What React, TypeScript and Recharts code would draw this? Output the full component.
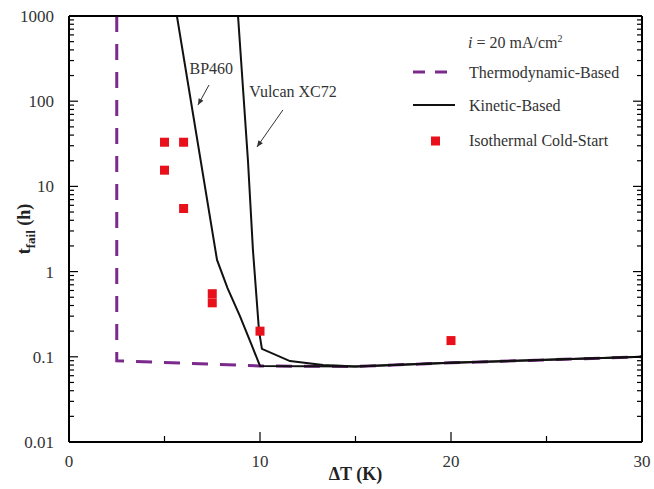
import {
  ComposedChart,
  Line,
  ReferenceDot,
  ReferenceLine,
  Scatter,
  XAxis,
  YAxis,
} from "recharts";

const xTicks = [0, 10, 20, 30];
const xMinorTicks = [5, 15, 25];
const yTicks = [0.01, 0.1, 1, 10, 100, 1000];
const yMinorSteps = [2, 3, 4, 5, 6, 7, 8, 9];

const thermodynamic = [
  { x: 2.5, y: 1000 },
  { x: 2.5, y: 0.09 },
  { x: 10, y: 0.078 },
  { x: 15, y: 0.077 },
  { x: 20, y: 0.085 },
  { x: 30, y: 0.1 },
];

const bp460 = [
  { x: 5.65, y: 1000 },
  { x: 7.75, y: 1.37 },
  { x: 8.3, y: 0.64 },
  { x: 8.95, y: 0.3 },
  { x: 9.55, y: 0.14 },
  { x: 10, y: 0.078 },
  { x: 15, y: 0.077 },
  { x: 20, y: 0.085 },
  { x: 30, y: 0.1 },
];

const vulcan = [
  { x: 8.85, y: 1000 },
  { x: 9.37, y: 20 },
  { x: 9.63, y: 1.8 },
  { x: 9.95, y: 0.2 },
  { x: 10.1, y: 0.124 },
  { x: 11.57, y: 0.089 },
  { x: 13.3, y: 0.08 },
  { x: 15, y: 0.077 },
  { x: 20, y: 0.085 },
  { x: 30, y: 0.1 },
];

const coldStart = [
  { x: 5, y: 33 },
  { x: 6, y: 33 },
  { x: 5, y: 15.5 },
  { x: 6, y: 5.5 },
  { x: 7.5, y: 0.55 },
  { x: 7.5, y: 0.43 },
  { x: 10, y: 0.2 },
  { x: 20, y: 0.155 },
];

const allYTicks = yTicks.concat(
  yTicks.slice(0, -1).flatMap((t) => yMinorSteps.map((s) => t * s))
);
const allXTicks = xTicks.concat(xMinorTicks);

const FONT = "Liberation Serif, serif";
const PURPLE = "#7b2a8c";
const RED = "#e8101a";

function LeftTick({ x, y, payload }: any) {
  const major = yTicks.includes(payload.value);
  return (
    <g>
      <line x1={x} x2={x + (major ? 9 : 5)} y1={y} y2={y} stroke="#000" strokeWidth={1.2} />
      {major && (
        <text x={x - 15} y={y} dy="0.35em" textAnchor="end" fill="#333" style={{ fontFamily: FONT, fontSize: 17 }}>
          {payload.value}
        </text>
      )}
    </g>
  );
}

function RightTick({ x, y, payload }: any) {
  const major = yTicks.includes(payload.value);
  return <line x1={x} x2={x - (major ? 9 : 5)} y1={y} y2={y} stroke="#000" strokeWidth={1.2} />;
}

function BottomTick({ x, y, payload }: any) {
  const major = xTicks.includes(payload.value);
  return (
    <g>
      <line x1={x} x2={x} y1={y} y2={y - (major ? 10 : 6)} stroke="#000" strokeWidth={1.2} />
      {major && (
        <text x={x} y={y + 19} dy="0.35em" textAnchor="middle" fill="#333" style={{ fontFamily: FONT, fontSize: 17 }}>
          {payload.value}
        </text>
      )}
    </g>
  );
}

function TopTick({ x, y, payload }: any) {
  const major = xTicks.includes(payload.value);
  return <line x1={x} x2={x} y1={y} y2={y + (major ? 10 : 6)} stroke="#000" strokeWidth={1.2} />;
}

function YLabel({ viewBox }: any) {
  const cx = viewBox.x + 21;
  const cy = viewBox.y + viewBox.height / 2;
  return (
    <text
      x={cx}
      y={cy}
      transform={`rotate(-90 ${cx} ${cy})`}
      textAnchor="middle"
      fill="#222"
      style={{ fontFamily: FONT, fontSize: 18, fontWeight: "bold" }}
    >
      t<tspan style={{ fontSize: 13 }} dy={5}>fail</tspan>
      <tspan dy={-5}> (h)</tspan>
    </text>
  );
}

function XLabel({ viewBox }: any) {
  const cx = viewBox.x + viewBox.width / 2;
  return (
    <text
      x={cx}
      y={viewBox.y + 38}
      textAnchor="middle"
      fill="#222"
      style={{ fontFamily: FONT, fontSize: 18, fontWeight: "bold" }}
    >
      ΔT (K)
    </text>
  );
}

function Annotation({ viewBox, value }: any) {
  return (
    <text
      x={viewBox.x + viewBox.width / 2}
      y={viewBox.y + viewBox.height / 2}
      dy="0.35em"
      textAnchor="middle"
      fill="#333"
      style={{ fontFamily: FONT, fontSize: 16 }}
    >
      {value}
    </text>
  );
}

function Arrow({ x1, y1, x2, y2 }: any) {
  const a = Math.atan2(y2 - y1, x2 - x1);
  const len = 7;
  const w = 0.4;
  const p1 = [x2 - len * Math.cos(a - w), y2 - len * Math.sin(a - w)];
  const p2 = [x2 - len * Math.cos(a + w), y2 - len * Math.sin(a + w)];
  return (
    <g>
      <line x1={x1} y1={y1} x2={x2} y2={y2} stroke="#333" strokeWidth={1} />
      <polygon points={`${x2},${y2} ${p1[0]},${p1[1]} ${p2[0]},${p2[1]}`} fill="#333" />
    </g>
  );
}

function Square({ cx, cy }: any) {
  return <rect x={cx - 4.5} y={cy - 4.5} width={9} height={9} fill={RED} />;
}

export default function App() {
  return (
    <div
      style={{
        position: "absolute",
        left: 0,
        top: 0,
        width: 654,
        height: 489,
        background: "#fff",
        fontFamily: FONT,
      }}
    >
      <ComposedChart
        width={654}
        height={489}
        margin={{ top: 15, right: 10, bottom: 2, left: 9 }}
      >
        <XAxis
          dataKey="x"
          type="number"
          domain={[0, 30]}
          ticks={allXTicks}
          interval={0}
          tick={<BottomTick />}
          tickSize={0}
          tickMargin={0}
          tickLine={false}
          axisLine={{ stroke: "#000", strokeWidth: 2 }}
          height={45}
          label={<XLabel />}
        />
        <XAxis
          xAxisId="top"
          orientation="top"
          dataKey="x"
          type="number"
          domain={[0, 30]}
          ticks={allXTicks}
          interval={0}
          tick={<TopTick />}
          tickSize={0}
          tickMargin={0}
          tickLine={false}
          axisLine={{ stroke: "#000", strokeWidth: 2 }}
          height={1}
        />
        <YAxis
          type="number"
          scale="log"
          domain={[0.01, 1000]}
          allowDataOverflow
          ticks={allYTicks}
          interval={0}
          tick={<LeftTick />}
          tickSize={0}
          tickMargin={0}
          tickLine={false}
          axisLine={{ stroke: "#000", strokeWidth: 2 }}
          width={60}
          label={<YLabel />}
        />
        <YAxis
          yAxisId="right"
          orientation="right"
          type="number"
          scale="log"
          domain={[0.01, 1000]}
          allowDataOverflow
          ticks={allYTicks}
          interval={0}
          tick={<RightTick />}
          tickSize={0}
          tickMargin={0}
          tickLine={false}
          axisLine={{ stroke: "#000", strokeWidth: 2 }}
          width={2}
        />
        <Line
          data={thermodynamic}
          dataKey="y"
          type="linear"
          stroke={PURPLE}
          strokeWidth={3}
          strokeDasharray="16 12"
          dot={false}
          isAnimationActive={false}
        />
        <Line
          data={bp460}
          dataKey="y"
          type="linear"
          stroke="#111"
          strokeWidth={2}
          dot={false}
          isAnimationActive={false}
        />
        <Line
          data={vulcan}
          dataKey="y"
          type="linear"
          stroke="#111"
          strokeWidth={2}
          dot={false}
          isAnimationActive={false}
        />
        <Scatter data={coldStart} dataKey="y" shape={<Square />} isAnimationActive={false} />
        <ReferenceLine
          segment={[
            { x: 7.33, y: 155 },
            { x: 6.75, y: 90 },
          ]}
          shape={Arrow}
        />
        <ReferenceLine
          segment={[
            { x: 11.2, y: 79 },
            { x: 9.84, y: 29 },
          ]}
          shape={Arrow}
        />
        <ReferenceDot
          x={7.45}
          y={245}
          r={0}
          fill="none"
          stroke="none"
          label={<Annotation value="BP460" />}
        />
        <ReferenceDot
          x={11.73}
          y={132}
          r={0}
          fill="none"
          stroke="none"
          label={<Annotation value="Vulcan XC72" />}
        />
      </ComposedChart>
      <svg
        width={240}
        height={140}
        style={{ position: "absolute", left: 405, top: 22, fontFamily: FONT, fontSize: 16 }}
        fill="#333"
      >
        <text x={63} y={20} dy="0.35em">
          <tspan fontStyle="italic">i</tspan> = 20 mA/cm
          <tspan style={{ fontSize: 10 }} dy={-6}>2</tspan>
        </text>
        <line x1={8} x2={52} y1={50} y2={50} stroke={PURPLE} strokeWidth={3} strokeDasharray="12 10" />
        <text x={64} y={50} dy="0.35em">Thermodynamic-Based</text>
        <line x1={8} x2={50} y1={83} y2={83} stroke="#111" strokeWidth={2} />
        <text x={64} y={83} dy="0.35em">Kinetic-Based</text>
        <rect x={26} y={114.5} width={9} height={9} fill={RED} />
        <text x={64} y={118} dy="0.35em">Isothermal Cold-Start</text>
      </svg>
    </div>
  );
}
